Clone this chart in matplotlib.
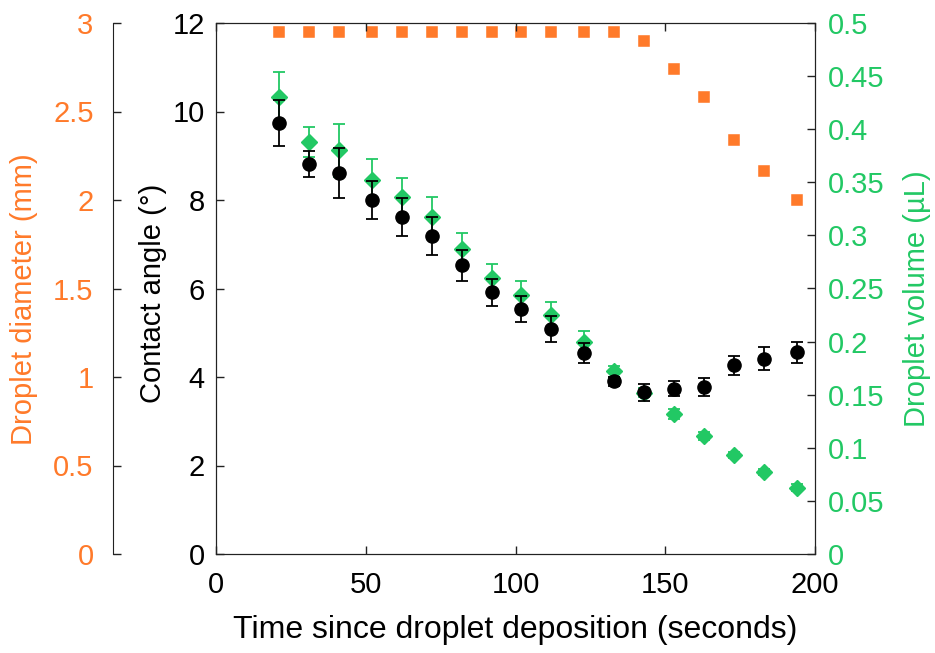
import matplotlib
matplotlib.use("Agg")
import matplotlib.pyplot as plt
from matplotlib.ticker import FuncFormatter, MultipleLocator, FixedLocator

plt.rcParams["font.family"] = ["Liberation Sans", "DejaVu Sans"]

# ── data ──
time_s = [21, 31, 41, 52, 62, 72, 82, 92, 102, 112, 123, 133, 143, 153, 163, 173, 183, 194]

angle = [9.73, 8.81, 8.61, 7.99, 7.62, 7.19, 6.52, 5.91, 5.53, 5.08, 4.54, 3.90,
         3.65, 3.74, 3.78, 4.26, 4.41, 4.56]
angle_err = [0.52, 0.30, 0.57, 0.43, 0.43, 0.43, 0.35, 0.30, 0.29, 0.29, 0.22, 0.10,
             0.20, 0.17, 0.20, 0.21, 0.26, 0.24]

volume = [0.430, 0.388, 0.380, 0.352, 0.336, 0.317, 0.287, 0.260, 0.244, 0.225, 0.200,
          0.172, 0.152, 0.132, 0.111, 0.093, 0.077, 0.0625]
volume_err = [0.024, 0.014, 0.025, 0.020, 0.018, 0.019, 0.015, 0.013, 0.013, 0.012,
              0.010, 0.005, 0.004, 0.005, 0.004, 0.003, 0.003, 0.003]

diameter = [2.95, 2.95, 2.95, 2.95, 2.95, 2.95, 2.95, 2.95, 2.95, 2.95, 2.95, 2.95,
            2.90, 2.74, 2.58, 2.34, 2.165, 2.00]

ORANGE = "#ff7a2a"
GREEN = "#22c864"
AXCOL = "#222222"
FS = 21

fmt = FuncFormatter(lambda v, _: f"{v:g}")

fig, ax = plt.subplots(figsize=(9.35, 6.53), dpi=100)
fig.subplots_adjust(left=216 / 935, right=815 / 935, top=1 - 23 / 653, bottom=1 - 554 / 653)

ax_vol = ax.twinx()
ax_dia = ax.twinx()

# draw order: diameter (bottom), volume, angle (top)
ax_dia.set_zorder(1)
ax_vol.set_zorder(2)
ax.set_zorder(3)
for a in (ax, ax_vol, ax_dia):
    a.patch.set_visible(False)

# ── diameter (orange, offset left axis) ──
ax_dia.plot(time_s, diameter, "s", color=ORANGE, markersize=8.5, mec="white", mew=0.3)
ax_dia.set_ylim(0, 3)
ax_dia.yaxis.set_label_position("left")
ax_dia.yaxis.tick_left()
ax_dia.spines["left"].set_position(("axes", -0.172))
ax_dia.spines["left"].set_visible(True)
for s in ("right", "top", "bottom"):
    ax_dia.spines[s].set_visible(False)
ax_dia.spines["left"].set_color(AXCOL)
ax_dia.yaxis.set_major_locator(MultipleLocator(0.5))
ax_dia.yaxis.set_minor_locator(FixedLocator([0, 3]))
ax_dia.yaxis.set_major_formatter(fmt)
ax_dia.tick_params(axis="y", direction="in", length=6, width=1, colors=AXCOL,
                   labelcolor=ORANGE, labelsize=FS, pad=14)
ax_dia.tick_params(axis="y", which="minor", direction="in", length=10, width=1.2,
                   colors=AXCOL)
ax_dia.set_ylabel("Droplet diameter (mm)", color=ORANGE, fontsize=FS)
ax_dia.yaxis.set_label_coords(-0.297, 0.48)

# ── volume (green, right axis) ──
ax_vol.errorbar(time_s, volume, yerr=volume_err, fmt="D", color=GREEN, markersize=8.5,
                ecolor=GREEN, elinewidth=1.3, capsize=4, capthick=1.3)
ax_vol.set_ylim(0, 0.5)
ax_vol.yaxis.set_major_locator(MultipleLocator(0.05))
ax_vol.yaxis.set_major_formatter(fmt)
ax_vol.tick_params(axis="y", direction="in", length=6, width=1, colors=AXCOL,
                   labelcolor=GREEN, labelsize=FS, pad=9)
ax_vol.set_ylabel("Droplet volume (µL)", color=GREEN, fontsize=FS)
ax_vol.yaxis.set_label_coords(1.147, 0.48)
for s in ax_vol.spines.values():
    s.set_color(AXCOL)

# ── contact angle (black, main axis) ──
ax.errorbar(time_s, angle, yerr=angle_err, fmt="o", color="black", markersize=9.5,
            ecolor="black", elinewidth=1.3, capsize=4, capthick=1.3)
ax.set_xlim(0, 200)
ax.set_ylim(0, 12)
ax.xaxis.set_major_locator(MultipleLocator(50))
ax.yaxis.set_major_locator(MultipleLocator(2))
ax.tick_params(axis="both", direction="in", length=6, width=1, colors=AXCOL,
               labelcolor="black", labelsize=FS, top=True, right=False)
ax.tick_params(axis="y", pad=8)
ax.tick_params(axis="x", pad=12)
ax.set_xlabel("Time since droplet deposition (seconds)", fontsize=23, labelpad=12)
ax.set_ylabel("Contact angle (°)", fontsize=FS)
ax.yaxis.set_label_coords(-0.082, 0.49)
for s in ax.spines.values():
    s.set_color(AXCOL)

fig.savefig("out.png", dpi=100, facecolor="white")
